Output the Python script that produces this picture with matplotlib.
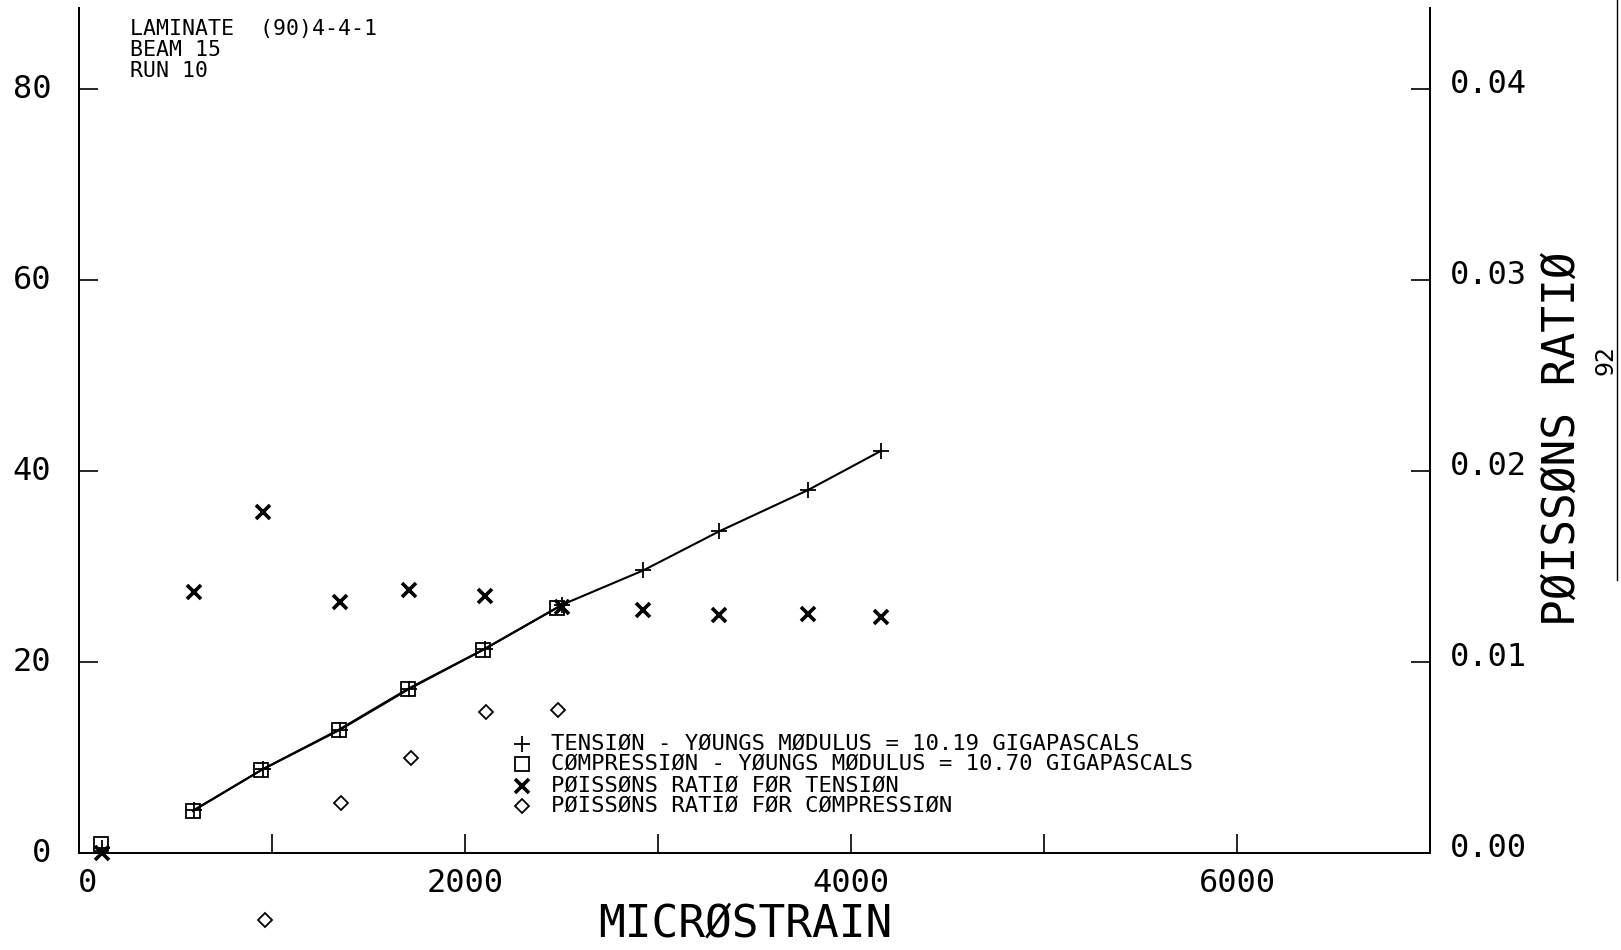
import matplotlib
matplotlib.use("Agg")
import matplotlib.pyplot as plt
from matplotlib.lines import Line2D
from matplotlib.transforms import ScaledTranslation

# Stress (MPa) against microstrain for the two loading directions
tension_strain = [120, 596, 955, 1352, 1712, 2105, 2503, 2924, 3318, 3776, 4154]
tension_stress = [0.5, 4.5, 8.8, 12.9, 17.2, 21.4, 26.0, 29.6, 33.7, 38.0, 42.1]
compression_strain = [115, 590, 945, 1345, 1705, 2095, 2478]
compression_stress = [0.9, 4.4, 8.7, 12.9, 17.2, 21.3, 25.7]

# Poisson's ratio readings
poisson_tension_strain = [120, 596, 955, 1352, 1712, 2105, 2503, 2924, 3318, 3776, 4154]
poisson_tension = [0.0, 0.01368, 0.01787, 0.01315, 0.01377, 0.01347,
                   0.01289, 0.01272, 0.01245, 0.01254, 0.01236]
poisson_compression_strain = [962, 1358, 1718, 2109, 2483]
poisson_compression = [-0.0035, 0.00262, 0.00498, 0.00736, 0.00750]

# Axis ticks and labels
strain_ticks = [0, 1000, 2000, 3000, 4000, 5000, 6000]
strain_tick_labels = ["0", "", "2000", "", "4000", "", "6000"]
stress_ticks = [0, 20, 40, 60, 80]
poisson_ticks = [0.00, 0.01, 0.02, 0.03, 0.04]
poisson_tick_labels = ["0.00", "0.01", "0.02", "0.03", "0.04"]

header_lines = ["LAMINATE  (90)4-4-1", "BEAM 15", "RUN 10"]
legend_labels = [
    "TENSIØN - YØUNGS MØDULUS = 10.19 GIGAPASCALS",
    "CØMPRESSIØN - YØUNGS MØDULUS = 10.70 GIGAPASCALS",
    "PØISSØNS RATIØ FØR TENSIØN",
    "PØISSØNS RATIØ FØR CØMPRESSIØN",
]

plt.rcParams["font.family"] = ["DejaVu Sans Mono", "DejaVu Sans"]

W, H = 1621, 950
fig = plt.figure(figsize=(W / 100, H / 100), dpi=100)
fig.patch.set_facecolor("white")

ax_left, ax_right, ax_bottom, ax_top = 79, 1430, 853, 8
ax = fig.add_axes([ax_left / W, (H - ax_bottom) / H,
                   (ax_right - ax_left) / W, (ax_bottom - ax_top) / H])
ax2 = ax.twinx()

ax.set_xlim(0, 7000)
ax.set_ylim(0, 88.5)
ax2.set_ylim(0, 0.04425)

for a in (ax, ax2):
    a.spines["top"].set_visible(False)
    for s in ("left", "right", "bottom"):
        a.spines[s].set_linewidth(1.4)
        a.spines[s].set_color("black")
    a.patch.set_visible(False)

ax.set_xticks(strain_ticks)
ax.set_xticklabels(strain_tick_labels)
ax.set_yticks(stress_ticks)
ax.set_yticklabels([str(v) for v in stress_ticks])
ax2.set_yticks(poisson_ticks)
ax2.set_yticklabels(poisson_tick_labels)

ax.tick_params(axis="x", direction="in", length=14, width=1.2, pad=11, labelsize=23)
ax.tick_params(axis="y", direction="in", length=14, width=1.2, pad=20, labelsize=23)
ax2.tick_params(axis="y", direction="in", length=14, width=1.2, pad=14, labelsize=23)

left_shift = ScaledTranslation(0, 3 / 100, fig.dpi_scale_trans)
right_shift = ScaledTranslation(0, 8 / 100, fig.dpi_scale_trans)
for lab in ax.get_yticklabels():
    lab.set_transform(lab.get_transform() + left_shift)
for lab in ax2.get_yticklabels():
    lab.set_transform(lab.get_transform() + right_shift)
# the zero on the strain axis sits a little right of its tick
x_zero_shift = ScaledTranslation(8 / 100, 0, fig.dpi_scale_trans)
ax.get_xticklabels()[0].set_transform(ax.get_xticklabels()[0].get_transform() + x_zero_shift)

# Stress-strain curves
ax.plot(tension_strain[1:], tension_stress[1:], color="black", lw=1.5, zorder=3)
ax.plot(compression_strain[1:], compression_stress[1:], color="black", lw=1.5, zorder=3)
ax.plot(tension_strain, tension_stress, ls="none", marker="+", ms=11, mew=1.3,
        color="black", clip_on=False, zorder=4)
ax.plot(compression_strain, compression_stress, ls="none", marker="s", ms=10,
        mfc="none", mec="black", mew=1.3, clip_on=False, zorder=4)

# Poisson's ratio points on the right-hand scale
ax2.plot(poisson_tension_strain, poisson_tension, ls="none", marker="x", ms=10,
         mew=2.6, color="black", clip_on=False, zorder=4)
ax2.plot(poisson_compression_strain, poisson_compression, ls="none", marker="D",
         ms=7.5, mfc="none", mec="black", mew=1.3, clip_on=False, zorder=4)

# Axis titles
ax.set_xlabel("MICRØSTRAIN", fontsize=32)
ax.xaxis.set_label_coords((745 - ax_left) / (ax_right - ax_left),
                          (ax_bottom - 924) / (ax_bottom - ax_top))
ax.xaxis.label.set_va("center")
ax2.set_ylabel("PØISSØNS RATIØ", fontsize=32, rotation=90)
ax2.yaxis.set_label_coords((1562 - ax_left) / (ax_right - ax_left),
                           (ax_bottom - 439) / (ax_bottom - ax_top))
ax2.yaxis.label.set_va("center")
ax2.yaxis.label.set_ha("center")

# Header block
for line, yc in zip(header_lines, [29, 50, 71]):
    fig.text(130 / W, 1 - yc / H, line, fontsize=15.5, ha="left", va="center")

# Key
key_styles = [
    dict(marker="+", ms=11, mew=1.3, color="black"),
    dict(marker="s", ms=10, mfc="none", mec="black", mew=1.3),
    dict(marker="x", ms=10, mew=2.6, color="black"),
    dict(marker="D", ms=7.5, mfc="none", mec="black", mew=1.3),
]
for label, style, yc in zip(legend_labels, key_styles, [744, 764, 786, 806]):
    ya = (ax_bottom - yc) / (ax_bottom - ax_top)
    ax.plot([(522 - ax_left) / (ax_right - ax_left)], [ya], ls="none",
            transform=ax.transAxes, clip_on=False, **style)
    ax.text((551 - ax_left) / (ax_right - ax_left), ya, label, fontsize=16,
            transform=ax.transAxes, ha="left", va="center")

# Page number and page edge
fig.text(1606 / W, 1 - 360 / H, "92", fontsize=17, family="DejaVu Sans",
         rotation=90, ha="center", va="center")
fig.add_artist(Line2D([1617 / W, 1617 / W], [1.0, 1 - 580 / H],
                      transform=fig.transFigure, color="black", lw=1.0))

fig.savefig("out.png", dpi=100, facecolor="white")
